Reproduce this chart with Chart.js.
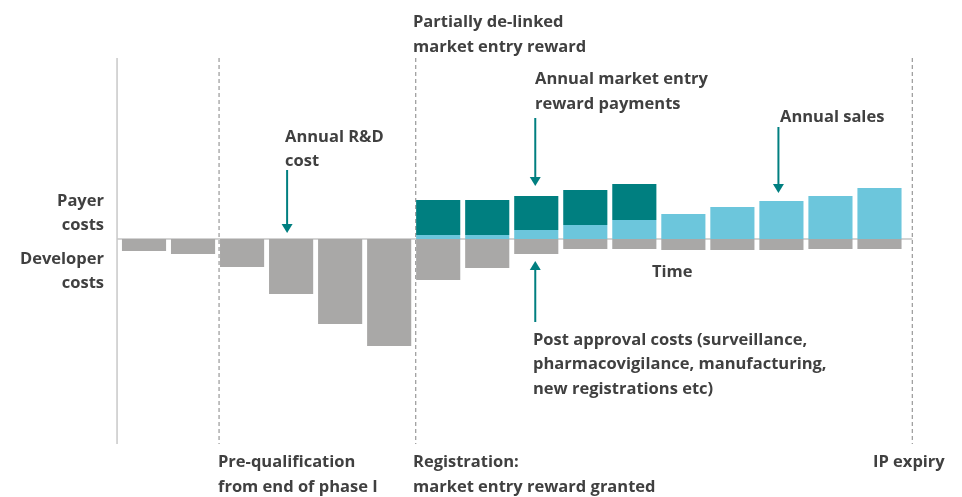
<!DOCTYPE html>
<html>
<head>
<meta charset="utf-8">
<script src="https://cdn.jsdelivr.net/npm/chart.js@4.4.1/dist/chart.umd.min.js"></script>
<style>
  html, body { margin: 0; padding: 0; background: #fff; }
  #wrap { width: 962px; height: 497px; position: relative; }
</style>
</head>
<body>
<div id="wrap"><canvas id="myChart"></canvas></div>
<script>
// periods on the time axis (labels are not shown in the figure)
const periods = ['1', '2', '3', '4', '5', '6', '7', '8', '9', '10', '11', '12', '13', '14', '15', '16'];
// developer costs (below the line)
const devCosts = [-12, -15, -28, -55, -85, -107, -41, -29, -15, -10, -10, -11, -11, -11, -10, -10];
// payer side: annual sales and market entry reward payments
const sales = [0, 0, 0, 0, 0, 0, 4, 4, 9, 14, 19, 25, 32, 38, 43, 51];
const reward = [0, 0, 0, 0, 0, 0, 35, 35, 34, 35, 36, 0, 0, 0, 0, 0];
const yMin = -205;
const yMax = 181;

const textColor = '#404040';
const teal = '#007f80';
const FONT = 'bold 16.5px "Open Sans"';

function arrow(c, x, y1, y2) {
    // line from y1 to tip at y2
    const dir = y2 > y1 ? 1 : -1;
    c.strokeStyle = teal;
    c.fillStyle = teal;
    c.lineWidth = 2;
    c.beginPath();
    c.moveTo(x, y1);
    c.lineTo(x, y2 - dir * 8);
    c.stroke();
    c.beginPath();
    c.moveTo(x - 5.5, y2 - dir * 9);
    c.lineTo(x + 5.5, y2 - dir * 9);
    c.lineTo(x, y2);
    c.closePath();
    c.fill();
}

function lines(c, arr, x, y, lh, align) {
    c.textAlign = align || 'left';
    arr.forEach((t, i) => c.fillText(t, x, y + i * lh));
}

const guides = {
    id: 'guides',
    beforeDatasetsDraw(chart) {
        const c = chart.ctx;
        const xs = chart.scales.x;
        const ys = chart.scales.y;
        const top = chart.chartArea.top;
        const bottom = chart.chartArea.bottom;
        const zero = ys.getPixelForValue(0);
        const axisX = xs.getPixelForValue(-0.55);
        const ipX = xs.getPixelForValue(15.67);
        c.save();
        // zero line
        c.strokeStyle = '#c4c4c4';
        c.lineWidth = 1.5;
        c.beginPath();
        c.moveTo(axisX, zero);
        c.lineTo(ipX, zero);
        c.stroke();
        // y axis
        c.strokeStyle = '#c8c8c8';
        c.beginPath();
        c.moveTo(axisX, top);
        c.lineTo(axisX, bottom);
        c.stroke();
        // phase dividers
        c.strokeStyle = '#a0a0a0';
        c.lineWidth = 1.3;
        c.setLineDash([4, 3]);
        [xs.getPixelForValue(1.5) + 1.5, xs.getPixelForValue(5.5) + 2, ipX].forEach((x) => {
            c.beginPath();
            c.moveTo(x, top);
            c.lineTo(x, bottom);
            c.stroke();
        });
        c.restore();
    },
    afterDatasetsDraw(chart) {
        const c = chart.ctx;
        const xs = chart.scales.x;
        const ys = chart.scales.y;
        const zero = ys.getPixelForValue(0);
        c.save();
        arrow(c, xs.getPixelForValue(3) - 4, 170, zero - 6);
        arrow(c, xs.getPixelForValue(8) - 1, 118, ys.getPixelForValue(sales[8] + reward[8]) - 10);
        arrow(c, xs.getPixelForValue(13) - 3, 127, ys.getPixelForValue(sales[13]) - 8);
        arrow(c, xs.getPixelForValue(8) - 1, 322, ys.getPixelForValue(devCosts[8]) + 7);

        c.fillStyle = textColor;
        c.font = FONT;
        c.textBaseline = 'alphabetic';
        lines(c, ['Partially de-linked', 'market entry reward'], 413, 27, 24.5);
        lines(c, ['Annual market entry', 'reward payments'], 535, 84, 24.5);
        lines(c, ['Annual R&D', 'cost'], 285, 141.5, 24);
        lines(c, ['Annual sales'], 780, 121.5, 24);
        lines(c, ['Payer', 'costs'], 104, 206, 23.5, 'right');
        lines(c, ['Developer', 'costs'], 104, 264, 23.5, 'right');
        lines(c, ['Time'], 652, 277, 24);
        lines(c, ['Post approval costs (surveillance,', 'pharmacovigilance, manufacturing,', 'new registrations etc)'], 533, 344.5, 24.5);
        lines(c, ['Pre-qualification', 'from end of phase I'], 218, 467, 24.5);
        lines(c, ['Registration:', 'market entry reward granted'], 413, 467, 24.5);
        lines(c, ['IP expiry'], 873, 467, 24.5);
        c.restore();
    }
};

const ctx = document.getElementById('myChart');

new Chart(ctx, {
    type: 'bar',
    data: {
        labels: periods,
        datasets: [{
            label: 'Developer costs',
            data: devCosts,
            backgroundColor: '#a9a8a7'
        }, {
            label: 'Annual sales',
            data: sales,
            backgroundColor: '#6cc6dc'
        }, {
            label: 'Market entry reward',
            data: reward,
            backgroundColor: '#007f80'
        }]
    },
    options: {
        responsive: true,
        maintainAspectRatio: false,
        animation: false,
        layout: {
            padding: { left: 119.5, right: 58, top: 58, bottom: 53 }
        },
        datasets: {
            bar: {
                barPercentage: 0.9,
                categoryPercentage: 1,
                borderWidth: 0
            }
        },
        plugins: {
            legend: { display: false },
            tooltip: { enabled: false }
        },
        scales: {
            x: {
                stacked: true,
                display: false
            },
            y: {
                stacked: true,
                display: false,
                min: yMin,
                max: yMax
            }
        }
    },
    plugins: [guides]
});
</script>
</body>
</html>
